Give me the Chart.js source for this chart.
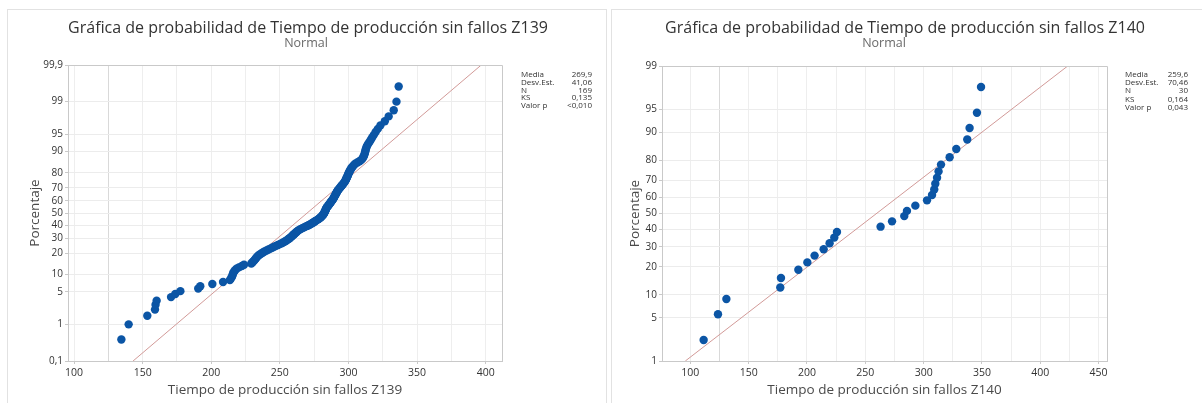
<!DOCTYPE html>
<html>
<head>
<meta charset="utf-8">
<script src="https://cdn.jsdelivr.net/npm/chart.js@4.4.1/dist/chart.umd.min.js"></script>
<style>
  html, body { margin: 0; padding: 0; background: #ffffff; }
  body { width: 1202px; height: 403px; position: relative; overflow: hidden; }
  .panel { position: absolute; border: 1px solid #e2e2e2; box-sizing: border-box; }
  canvas { position: absolute; top: 0; }
</style>
</head>
<body>
<div class="panel" style="left:7px; top:9px; width:600px; height:410px;"></div>
<div class="panel" style="left:611px; top:9px; width:600px; height:410px;"></div>
<canvas id="chartZ139" width="606" height="403" style="left:0px;"></canvas>
<canvas id="chartZ140" width="596" height="403" style="left:606px;"></canvas>
<script>
// ---- Data -------------------------------------------------------------
// Production time without failures, line Z139 (sorted, n = 169)
const timesZ139 = [
  134.5, 139.8, 153.4, 159.0, 159.4, 160.2, 170.7, 173.8, 177.5, 190.5,
  192.0, 200.8, 208.6, 213.6, 214.5, 215.2, 215.6, 216.0, 216.5, 217.4,
  218.4, 220.1, 222.3, 223.9, 229.2, 230.1, 230.9, 231.6, 232.3, 232.9,
  233.5, 234.4, 235.4, 236.5, 237.6, 238.8, 240.3, 241.7, 243.1, 244.4,
  245.8, 247.2, 248.6, 250.0, 251.3, 252.5, 253.6, 254.6, 255.5, 256.3,
  257.1, 257.8, 258.5, 259.1, 259.7, 260.3, 260.9, 261.5, 262.2, 262.8,
  263.5, 264.4, 265.4, 266.5, 267.6, 268.7, 269.8, 270.9, 271.9, 272.9,
  273.8, 274.6, 275.4, 276.2, 277.0, 277.8, 278.5, 279.2, 279.8, 280.4,
  280.9, 281.3, 281.7, 282.0, 282.3, 282.6, 282.9, 283.1, 283.3, 283.5,
  283.7, 284.0, 284.3, 284.7, 285.1, 285.5, 285.9, 286.3, 286.7, 287.1,
  287.5, 287.9, 288.3, 288.7, 289.0, 289.3, 289.6, 289.9, 290.2, 290.5,
  290.8, 291.1, 291.4, 291.7, 292.0, 292.4, 292.8, 293.3, 293.8, 294.3,
  294.8, 295.3, 295.8, 296.3, 296.8, 297.2, 297.6, 298.0, 298.3, 298.6,
  298.9, 299.2, 299.5, 299.8, 300.1, 300.4, 300.8, 301.2, 301.6, 302.1,
  302.7, 303.4, 304.1, 304.9, 306.5, 308.0, 309.3, 310.2, 310.8, 311.3,
  311.7, 312.0, 312.3, 312.6, 313.0, 313.5, 314.3, 315.3, 316.3, 317.3,
  318.5, 319.8, 321.4, 323.3, 326.5, 329.3, 333.0, 335.0, 336.6
];
// Production time without failures, line Z140 (sorted, n = 30)
const timesZ140 = [
  111.4, 123.7, 130.9, 177.1, 177.7, 192.6, 200.3, 206.5, 214.3, 219.4,
  223.4, 225.7, 263.1, 272.9, 283.4, 285.7, 292.9, 302.9, 307.2, 309.1,
  310.0, 311.5, 312.8, 314.9, 322.3, 328.0, 337.4, 339.4, 345.7, 349.2
];

// Fitted normal parameters shown in the summary tables
const meanZ139 = 269.9, sdZ139 = 41.06;
const meanZ140 = 259.6, sdZ140 = 70.46;

// Axis tick labels
const pctTicksZ139 = [0.1, 1, 5, 10, 20, 30, 40, 50, 60, 70, 80, 90, 95, 99, 99.9];
const pctTicksZ140 = [1, 5, 10, 20, 30, 40, 50, 60, 70, 80, 90, 95, 99];
const xTicksZ139 = [100, 150, 200, 250, 300, 350, 400];
const xTicksZ140 = [100, 150, 200, 250, 300, 350, 400, 450];

// Summary table
const statLabels = ['Media', 'Desv.Est.', 'N', 'KS', 'Valor p'];
const statValuesZ139 = ['269,9', '41,06', '169', '0,135', '<0,010'];
const statValuesZ140 = ['259,6', '70,46', '30', '0,164', '0,043'];

// ---- Helpers ----------------------------------------------------------
// Inverse standard normal CDF (Acklam's rational approximation)
function normInv(p) {
  const a = [-3.969683028665376e+01, 2.209460984245205e+02, -2.759285104469687e+02,
             1.383577518672690e+02, -3.066479806614716e+01, 2.506628277459239e+00];
  const b = [-5.447609879822406e+01, 1.615858368580409e+02, -1.556989798598866e+02,
             6.680131188771972e+01, -1.328068155288572e+01];
  const c = [-7.784894002430293e-03, -3.223964580411365e-01, -2.400758277161838e+00,
             -2.549732539343734e+00, 4.374664141464968e+00, 2.938163982698783e+00];
  const d = [7.784695709041462e-03, 3.224671290700398e-01, 2.445134137142996e+00,
             3.754408661907416e+00];
  const pl = 0.02425, ph = 1 - pl;
  let q, r;
  if (p < pl) {
    q = Math.sqrt(-2 * Math.log(p));
    return (((((c[0]*q+c[1])*q+c[2])*q+c[3])*q+c[4])*q+c[5]) / ((((d[0]*q+d[1])*q+d[2])*q+d[3])*q+1);
  }
  if (p <= ph) {
    q = p - 0.5; r = q * q;
    return (((((a[0]*r+a[1])*r+a[2])*r+a[3])*r+a[4])*r+a[5])*q / (((((b[0]*r+b[1])*r+b[2])*r+b[3])*r+b[4])*r+1);
  }
  q = Math.sqrt(-2 * Math.log(1 - p));
  return -(((((c[0]*q+c[1])*q+c[2])*q+c[3])*q+c[4])*q+c[5]) / ((((d[0]*q+d[1])*q+d[2])*q+d[3])*q+1);
}

// Median-rank plotting positions on the normal-score axis
function probabilityPoints(values) {
  const n = values.length;
  return values.map((v, i) => ({ x: v, y: normInv((i + 1 - 0.3) / (n + 0.4)) }));
}

const fmtPct = p => String(p).replace('.', ',');
const FONT = "'Open Sans', 'Noto Sans', sans-serif";

Chart.defaults.font.family = FONT;
Chart.defaults.color = '#333333';

// Frame, titles, axis titles and summary table
const decorPlugin = {
  id: 'decor',
  afterDraw(chart, args, o) {
    const ctx = chart.ctx, a = chart.chartArea;
    ctx.save();
    ctx.strokeStyle = '#c9c9c9';
    ctx.lineWidth = 1;
    ctx.beginPath();
    ctx.moveTo(a.left, a.top + 0.5);
    ctx.lineTo(a.right + 0.5, a.top + 0.5);
    ctx.lineTo(a.right + 0.5, a.bottom);
    ctx.stroke();

    ctx.textAlign = 'center';
    ctx.textBaseline = 'middle';
    ctx.fillStyle = '#333333';
    ctx.font = '16px ' + FONT;
    ctx.fillText(o.title, o.titleX, 28);
    ctx.fillStyle = '#6a6a6a';
    ctx.font = '12.5px ' + FONT;
    ctx.fillText('Normal', o.subX, 43);

    ctx.fillStyle = '#4a4a4a';
    ctx.font = '13.5px ' + FONT;
    ctx.fillText(o.xTitle, (a.left + a.right) / 2, 390);
    ctx.save();
    ctx.translate(o.yTitleX, (a.top + a.bottom) / 2);
    ctx.rotate(-Math.PI / 2);
    ctx.fillText('Porcentaje', 0, 0);
    ctx.restore();

    ctx.font = '8px ' + FONT;
    ctx.fillStyle = '#333333';
    statLabels.forEach((lab, i) => {
      const y = o.statTop + i * o.statStep;
      ctx.textAlign = 'left';
      ctx.fillText(lab, o.statX, y);
      ctx.textAlign = 'right';
      ctx.fillText(o.statValues[i], o.statR, y);
    });
    ctx.restore();
  }
};

function makeProbPlot(canvasId, cfg) {
  const zMin = normInv(cfg.pctTicks[0] / 100);
  const zMax = normInv(cfg.pctTicks[cfg.pctTicks.length - 1] / 100);
  const gridVals = [];
  for (let v = 75; v <= 475; v += 25) if (v >= cfg.xMin && v <= cfg.xMax) gridVals.push(v);

  return new Chart(document.getElementById(canvasId), {
    type: 'scatter',
    data: {
      datasets: [
        {
          data: probabilityPoints(cfg.values),
          backgroundColor: '#0b55a5',
          borderWidth: 0,
          pointRadius: 4.2,
          order: 0
        },
        {
          type: 'line',
          data: [
            { x: cfg.mean + zMin * cfg.sd, y: zMin },
            { x: cfg.mean + zMax * cfg.sd, y: zMax }
          ],
          borderColor: '#d29a98',
          borderWidth: 1,
          pointRadius: 0,
          fill: false,
          order: 1
        }
      ]
    },
    options: {
      responsive: false,
      animation: false,
      devicePixelRatio: 1,
      layout: { padding: cfg.padding },
      plugins: {
        legend: { display: false },
        tooltip: { enabled: false },
        decor: cfg.decor
      },
      scales: {
        x: {
          type: 'linear',
          min: cfg.xMin,
          max: cfg.xMax,
          afterBuildTicks: s => { s.ticks = gridVals.map(v => ({ value: v })); },
          afterFit: s => { s.height = cfg.xAxisHeight; },
          ticks: {
            padding: 3,
            maxRotation: 0,
            autoSkip: false,
            font: { size: 10.5 },
            color: '#333333',
            callback: v => (cfg.xTicks.includes(v) ? String(v) : '')
          },
          grid: {
            color: c => (c.tick && c.tick.value === 125 ? '#d9d9d9' : '#eeeeee'),
            tickLength: 3,
            tickColor: c => (c.tick && cfg.xTicks.includes(c.tick.value) ? '#c9c9c9' : 'rgba(0,0,0,0)')
          },
          border: { color: '#c9c9c9' }
        },
        y: {
          type: 'linear',
          min: zMin,
          max: zMax,
          afterBuildTicks: s => { s.ticks = cfg.pctTicks.map(p => ({ value: normInv(p / 100) })); },
          afterFit: s => { s.width = cfg.yAxisWidth; },
          ticks: {
            padding: 2,
            autoSkip: false,
            font: { size: 10 },
            color: '#333333',
            callback: (v, i) => fmtPct(cfg.pctTicks[i])
          },
          grid: { color: '#ececec', tickLength: 3, tickColor: '#c9c9c9' },
          border: { color: '#c9c9c9' }
        }
      }
    },
    plugins: [decorPlugin]
  });
}

makeProbPlot('chartZ139', {
  values: timesZ139, mean: meanZ139, sd: sdZ139,
  pctTicks: pctTicksZ139, xTicks: xTicksZ139,
  xMin: 95.6, xMax: 411.9,
  padding: { left: 0, top: 65, right: 104, bottom: 0 },
  yAxisWidth: 68, xAxisHeight: 42,
  decor: {
    title: 'Gráfica de probabilidad de Tiempo de producción sin fallos Z139',
    titleX: 308, subX: 306, yTitleX: 35,
    xTitle: 'Tiempo de producción sin fallos Z139',
    statValues: statValuesZ139, statX: 521, statR: 592, statTop: 75, statStep: 7.7
  }
});

makeProbPlot('chartZ140', {
  values: timesZ140, mean: meanZ140, sd: sdZ140,
  pctTicks: pctTicksZ140, xTicks: xTicksZ140,
  xMin: 75.7, xMax: 457.2,
  padding: { left: 0, top: 66, right: 95, bottom: 0 },
  yAxisWidth: 56, xAxisHeight: 42,
  decor: {
    title: 'Gráfica de probabilidad de Tiempo de producción sin fallos Z140',
    titleX: 299, subX: 278, yTitleX: 29,
    xTitle: 'Tiempo de producción sin fallos Z140',
    statValues: statValuesZ140, statX: 519, statR: 582, statTop: 75, statStep: 8.1
  }
});
</script>
</body>
</html>
